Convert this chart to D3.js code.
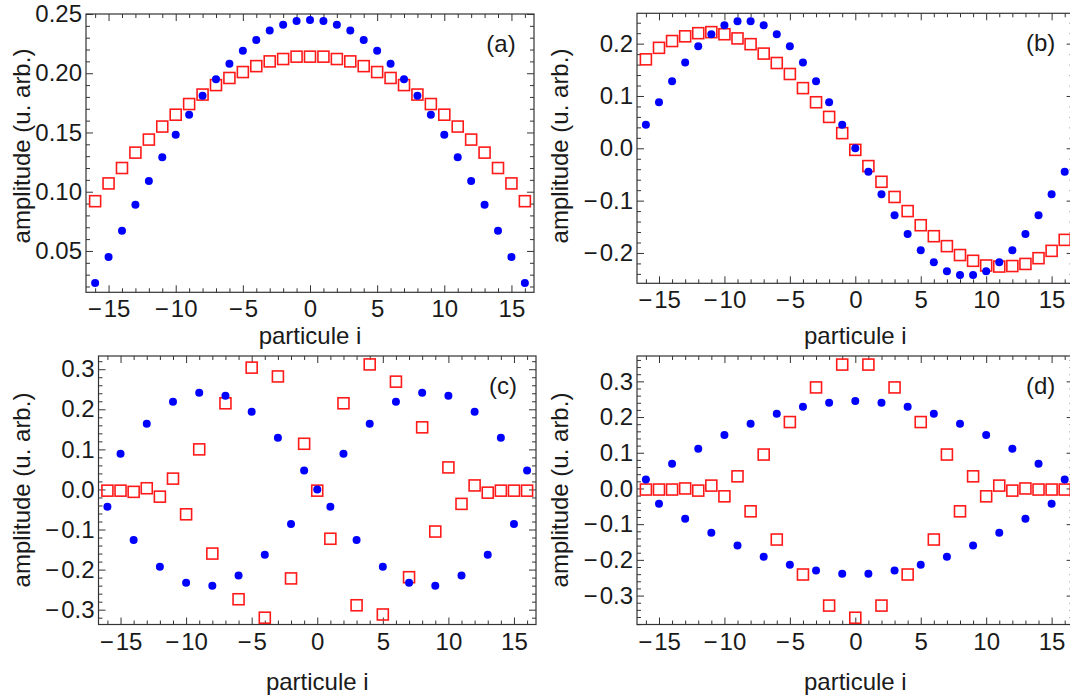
<!DOCTYPE html>
<html><head><meta charset="utf-8">
<script src="https://cdn.jsdelivr.net/npm/d3@7"></script>
<style>
body{margin:0;background:#fff;}
text{font-family:"Liberation Sans",Arial,Helvetica,sans-serif;fill:#1a1a1a;}
</style>
</head><body>
<svg id="chart" width="1070" height="697"></svg>
<script>
// ---------------- data ----------------
const particles = [-16,-15,-14,-13,-12,-11,-10,-9,-8,-7,-6,-5,-4,-3,-2,-1,0,1,2,3,4,5,6,7,8,9,10,11,12,13,14,15,16];

const blueA = [0.023,0.045,0.067,0.089,0.109,0.129,0.148,0.165,0.181,0.195,0.208,0.219,0.228,0.236,0.241,0.244,0.245,0.244,0.241,0.236,0.228,0.219,0.208,0.195,0.181,0.165,0.148,0.129,0.109,0.089,0.067,0.045,0.023];
const redA  = [0.092,0.107,0.120,0.133,0.144,0.155,0.165,0.174,0.182,0.190,0.196,0.201,0.206,0.210,0.212,0.214,0.214,0.214,0.212,0.210,0.206,0.201,0.196,0.190,0.182,0.174,0.165,0.155,0.144,0.133,0.120,0.107,0.092];

const blueB = [0.045,0.088,0.128,0.164,0.195,0.218,0.235,0.243,0.243,0.235,0.218,0.195,0.164,0.128,0.088,0.045,0.000,-0.045,-0.088,-0.128,-0.164,-0.195,-0.218,-0.235,-0.242,-0.242,-0.235,-0.218,-0.195,-0.164,-0.128,-0.088,-0.045];
const redB  = [0.170,0.192,0.205,0.214,0.220,0.222,0.218,0.210,0.199,0.181,0.163,0.142,0.115,0.088,0.060,0.029,-0.003,-0.034,-0.064,-0.093,-0.120,-0.147,-0.168,-0.187,-0.204,-0.215,-0.224,-0.226,-0.225,-0.221,-0.210,-0.196,-0.175];

const blueC = [-0.043,0.089,-0.126,0.164,-0.193,0.219,-0.233,0.241,-0.240,0.234,-0.215,0.194,-0.163,0.129,-0.086,0.047,0.000,-0.043,0.089,-0.126,0.164,-0.193,0.219,-0.233,0.241,-0.240,0.234,-0.215,0.194,-0.163,0.129,-0.086,0.047];
const redC  = [-0.003,-0.003,-0.006,0.003,-0.018,0.027,-0.062,0.100,-0.160,0.215,-0.274,0.304,-0.320,0.282,-0.222,0.114,-0.003,-0.123,0.215,-0.289,0.312,-0.312,0.269,-0.219,0.155,-0.105,0.055,-0.036,0.010,-0.008,-0.003,-0.003,-0.003];

const blueD = [0.025,-0.043,0.069,-0.085,0.111,-0.124,0.150,-0.160,0.181,-0.191,0.209,-0.214,0.229,-0.230,0.240,-0.239,0.245,-0.239,0.240,-0.230,0.229,-0.214,0.209,-0.191,0.181,-0.160,0.150,-0.124,0.111,-0.085,0.069,-0.043,0.025];
const redD  = [-0.003,-0.003,-0.003,0.000,-0.006,0.008,-0.022,0.034,-0.064,0.095,-0.143,0.186,-0.241,0.283,-0.328,0.347,-0.362,0.347,-0.328,0.283,-0.241,0.186,-0.143,0.095,-0.064,0.034,-0.022,0.008,-0.006,0.000,-0.003,-0.003,-0.003];

const xTickValues = [-15,-10,-5,0,5,10,15];
const yTicksA  = [0.05,0.10,0.15,0.20,0.25];
const yTicksB  = [-0.2,-0.1,0.0,0.1,0.2];
const yTicksCD = [-0.3,-0.2,-0.1,0.0,0.1,0.2,0.3];
const panelLabels = ["(a)","(b)","(c)","(d)"];
const xTitle = "particule i";
const yTitle = "amplitude (u. arb.)";

// ---------------- layout ----------------
const panels = [
  {lab:panelLabels[0], blue:blueA, red:redA, x0:86,  x1:534,    y0:14,   y1:292.3, yd:[0.0151,0.25],   yt:yTicksA,  ym:0.01, fmt:".2f", xlabY:344, ylabX:22,  ylabY:146},
  {lab:panelLabels[1], blue:blueB, red:redB, x0:637, x1:1073.6, y0:13.3, y1:283.3, yd:[-0.258,0.258],  yt:yTicksB,  ym:0.02, fmt:".1f", xlabY:344, ylabX:560, ylabY:146},
  {lab:panelLabels[2], blue:blueC, red:redC, x0:98.5,x1:536,    y0:356,  y1:624.5, yd:[-0.337,0.333],  yt:yTicksCD, ym:0.02, fmt:".1f", xlabY:690, ylabX:22,  ylabY:490},
  {lab:panelLabels[3], blue:blueD, red:redD, x0:637, x1:1073.6, y0:356,  y1:624.5, yd:[-0.381,0.371],  yt:yTicksCD, ym:0.02, fmt:".1f", xlabY:690, ylabX:560, ylabY:490}
];

const svg = d3.select("#chart");
const FS = 24;      // tick labels
const FT = 24;      // axis titles
const frameCol = "#333";

panels.forEach(p => {
  const x = d3.scaleLinear().domain([-16.68,16.68]).range([p.x0,p.x1]);
  const y = d3.scaleLinear().domain(p.yd).range([p.y1,p.y0]);
  const g = svg.append("g");
  const w = p.x1-p.x0, h = p.y1-p.y0;

  const xMinor = d3.range(-16,17,1).filter(v => v%5!==0);
  const yMinor = d3.range(Math.ceil(p.yd[0]/p.ym), Math.floor(p.yd[1]/p.ym)+1)
                   .map(k => +(k*p.ym).toFixed(4))
                   .filter(v => !p.yt.some(t => Math.abs(t-v)<1e-6));

  const fmtY = v => { const s = d3.format(p.fmt)(Math.abs(v)); return v < -1e-9 ? "\u2212\u200A"+s : s; };
  const fmtX = v => (v<0 ? "\u2212\u200A"+Math.abs(v) : ""+v);

  const gB = g.append("g").attr("transform",`translate(0,${p.y1})`)
     .call(d3.axisBottom(x).tickValues(xTickValues).tickSizeInner(-7).tickSizeOuter(0).tickFormat(fmtX));
  gB.selectAll("text").attr("y",25).attr("dy",null).style("font-size",FS+"px");
  g.append("g").attr("transform",`translate(0,${p.y1})`)
     .call(d3.axisBottom(x).tickValues(xMinor).tickSizeInner(-4).tickSizeOuter(0).tickFormat(""));
  g.append("g").attr("transform",`translate(0,${p.y0})`)
     .call(d3.axisTop(x).tickValues(xTickValues).tickSizeInner(-7).tickSizeOuter(0).tickFormat(""));
  g.append("g").attr("transform",`translate(0,${p.y0})`)
     .call(d3.axisTop(x).tickValues(xMinor).tickSizeInner(-4).tickSizeOuter(0).tickFormat(""));

  const gL = g.append("g").attr("transform",`translate(${p.x0},0)`)
     .call(d3.axisLeft(y).tickValues(p.yt).tickSizeInner(-7).tickSizeOuter(0).tickFormat(fmtY));
  gL.selectAll("text").attr("x",-4).style("font-size",FS+"px");
  g.append("g").attr("transform",`translate(${p.x0},0)`)
     .call(d3.axisLeft(y).tickValues(yMinor).tickSizeInner(-4).tickSizeOuter(0).tickFormat(""));
  g.append("g").attr("transform",`translate(${p.x1},0)`)
     .call(d3.axisRight(y).tickValues(p.yt).tickSizeInner(-7).tickSizeOuter(0).tickFormat(""));
  g.append("g").attr("transform",`translate(${p.x1},0)`)
     .call(d3.axisRight(y).tickValues(yMinor).tickSizeInner(-4).tickSizeOuter(0).tickFormat(""));

  g.selectAll(".domain").remove();
  g.selectAll(".tick line").attr("stroke",frameCol).attr("stroke-width",1);
  g.selectAll(".tick text").attr("fill","#1a1a1a").style("font-family","'Liberation Sans',Arial,sans-serif");

  g.append("rect").attr("x",p.x0).attr("y",p.y0).attr("width",w).attr("height",h)
    .attr("fill","none").attr("stroke",frameCol).attr("stroke-width",1.2);

  const S = 11;
  g.append("g").selectAll("rect").data(particles).join("rect")
    .attr("x",d=>x(d)-S/2).attr("y",(d,i)=>y(p.red[i])-S/2)
    .attr("width",S).attr("height",S)
    .attr("fill","none").attr("stroke","#ff1a1a").attr("stroke-width",1.6);

  g.append("g").selectAll("circle").data(particles).join("circle")
    .attr("cx",d=>x(d)).attr("cy",(d,i)=>y(p.blue[i])).attr("r",4)
    .attr("fill","#0000ff");

  g.append("text").attr("x",p.x1-33).attr("y",p.y0+38).attr("text-anchor","middle")
    .style("font-size",FS+"px").text(p.lab);

  g.append("text").attr("x",(p.x0+p.x1)/2).attr("y",p.xlabY).attr("text-anchor","middle")
    .style("font-size",FT+"px").text(xTitle);
  g.append("text").attr("transform",`translate(${p.ylabX},${p.ylabY}) rotate(-90)`)
    .attr("text-anchor","middle").attr("dy","0.35em")
    .style("font-size",FT+"px").text(yTitle);
});
</script>
</body></html>
